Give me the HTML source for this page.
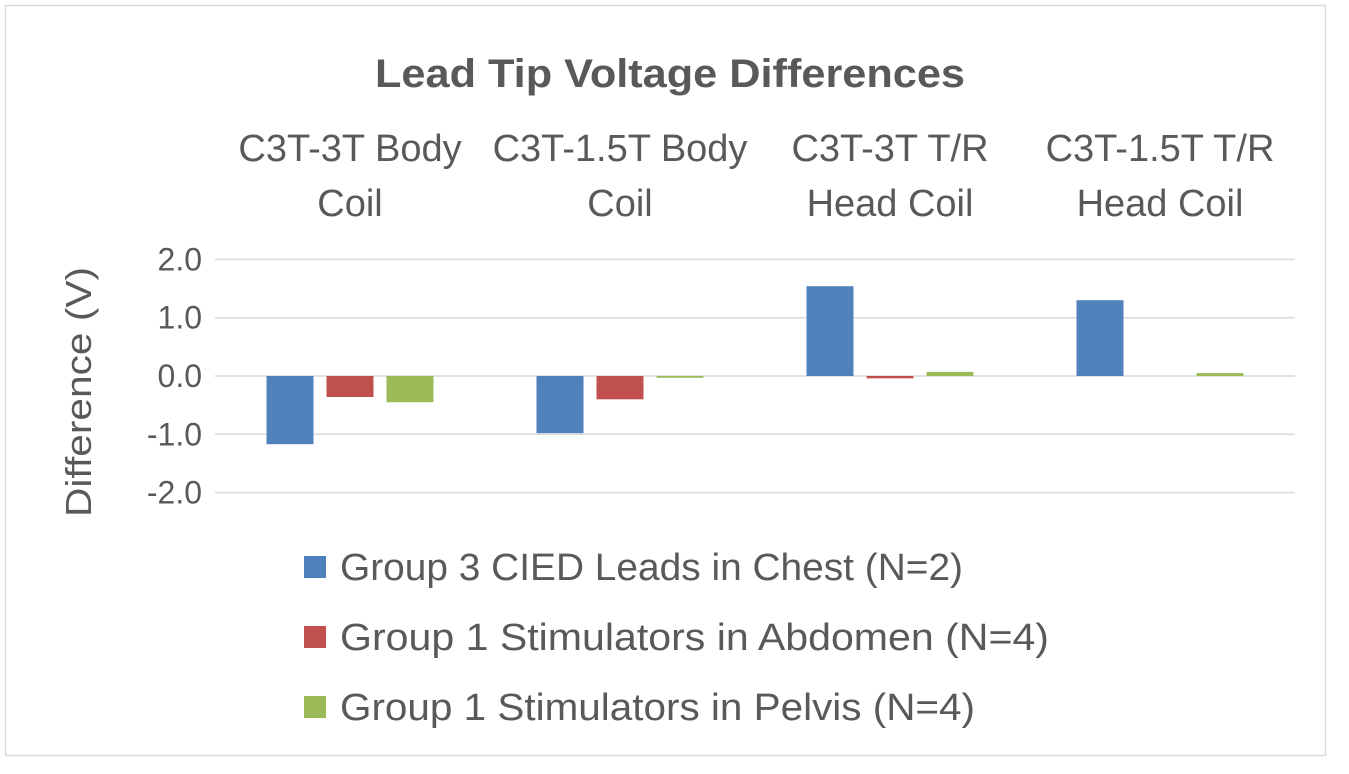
<!DOCTYPE html>
<html><head><meta charset="utf-8">
<style>
html,body{margin:0;padding:0;background:#fff;}
svg{display:block;font-family:"Liberation Sans",Calibri,sans-serif;}
</style></head>
<body>
<svg id="chart" width="1349" height="774" viewBox="0 0 1349 774">
<rect x="5.5" y="5.5" width="1320" height="750" fill="#fff" stroke="#d9d9d9" stroke-width="1.5"/>
<text x="670" y="87" text-anchor="middle" font-size="40" font-weight="bold" fill="#595959" textLength="590" lengthAdjust="spacingAndGlyphs">Lead Tip Voltage Differences</text>
<text transform="translate(91,392) rotate(-90)" text-anchor="middle" font-size="36" fill="#595959" textLength="250" lengthAdjust="spacingAndGlyphs">Difference (V)</text>
<g id="grid"></g><g id="ticks"></g><g id="cats"></g><g id="bars"></g><g id="legend"></g>
</svg>
<script>
const categories=[["C3T-3T Body","Coil"],["C3T-1.5T Body","Coil"],["C3T-3T T/R","Head Coil"],["C3T-1.5T T/R","Head Coil"]];
const seriesNames=["Group 3 CIED Leads in Chest (N=2)","Group 1 Stimulators in Abdomen (N=4)","Group 1 Stimulators in Pelvis (N=4)"];
const chestValues=[-1.17,-0.98,1.54,1.30];
const abdomenValues=[-0.36,-0.40,-0.04,0];
const pelvisValues=[-0.45,-0.03,0.07,0.05];
const tickValues=[2,1,0,-1,-2];
const tickLabels=["2.0","1.0","0.0","-1.0","-2.0"];
const colors=["#4f81bd","#c0504d","#9bbb59"];
const legendWidths=[623,709,635];
const NS="http://www.w3.org/2000/svg";
const plotL=215,plotR=1295,y0=376,pxPerUnit=58.3;
function y(v){return y0-v*pxPerUnit;}
const catW=(plotR-plotL)/categories.length;
function cx(i){return plotL+catW*(i+0.5);}
function mk(tag,attrs,parent){const e=document.createElementNS(NS,tag);for(const k in attrs)e.setAttribute(k,attrs[k]);document.getElementById(parent).appendChild(e);return e;}
tickValues.forEach((v,i)=>{
  const l=mk("line",{x1:plotL,x2:plotR,y1:y(v),y2:y(v),stroke:"#d9d9d9","stroke-width":1.5},"grid");
  
  
  const t=mk("text",{x:202,y:y(v)+11,"text-anchor":"end","font-size":32,fill:"#595959"},"ticks");
  t.textContent=tickLabels[i];
  
  
});
categories.forEach((c,i)=>{
  c.forEach((line,j)=>{
    const t=mk("text",{x:cx(i),y:161+j*55,"text-anchor":"middle","font-size":38,fill:"#595959"},"cats");
    t.textContent=line;
    
    
  });
});
const series=[chestValues,abdomenValues,pelvisValues];
const bw=47,gap=13;
series.forEach((vals,s)=>{
  vals.forEach((v,i)=>{
    const x=cx(i)-1.5*bw-gap+s*(bw+gap);
    const top=Math.min(y(v),y(0)),h=Math.max(Math.abs(y(v)-y(0)),0.01);
    const r=mk("rect",{x:x,y:top,width:bw,height:h,fill:colors[s]},"bars");
    
    
  });
});
seriesNames.forEach((n,s)=>{
  const yy=567+s*70;
  const r=mk("rect",{x:304,y:yy-11,width:22,height:22,fill:colors[s]},"legend");
  
  
  const t=mk("text",{x:340,y:yy+13,"font-size":38,fill:"#595959",textLength:legendWidths[s],lengthAdjust:"spacingAndGlyphs"},"legend");
  t.textContent=n;
  
  
});
</script>
</body></html>
